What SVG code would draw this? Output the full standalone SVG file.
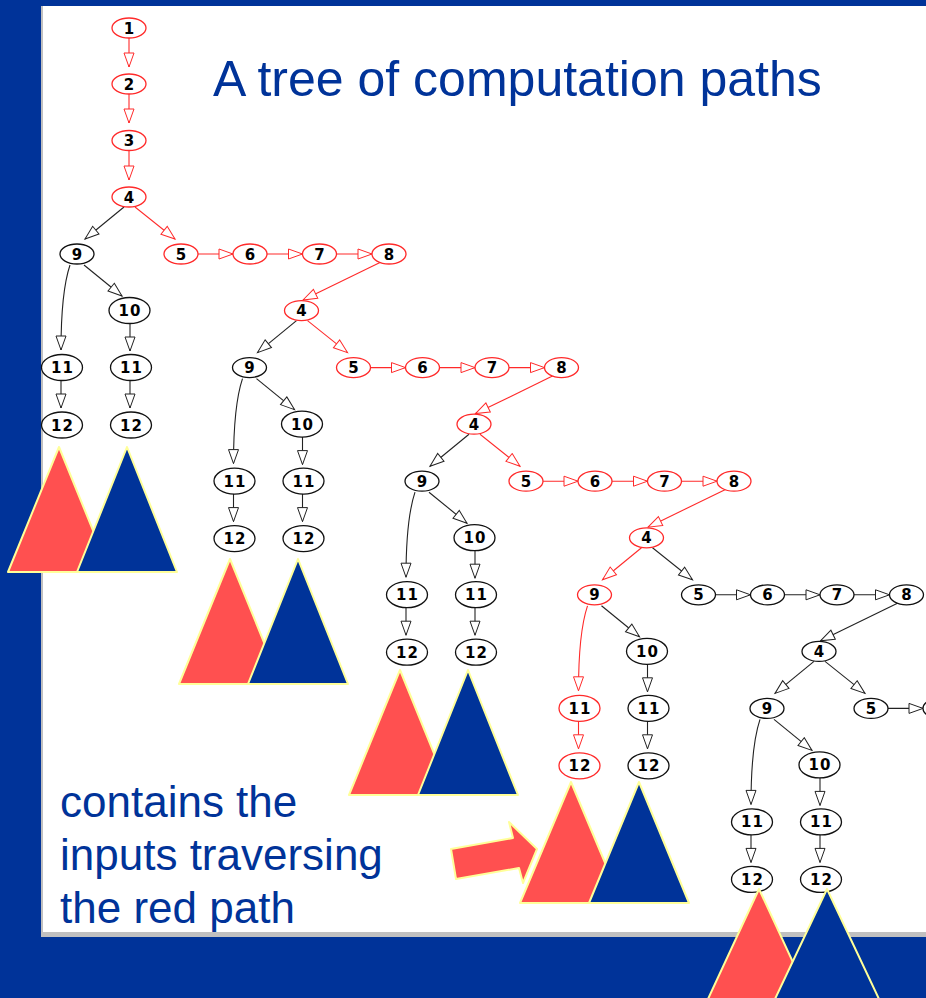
<svg xmlns="http://www.w3.org/2000/svg" width="926" height="998" viewBox="0 0 926 998">
<style>
.n ellipse{fill:#fff;stroke-width:1.3}
.k ellipse{stroke:#111}
.r ellipse{stroke:#ff2a2a}
.n text{font-family:"DejaVu Sans","Liberation Sans",sans-serif;font-weight:bold;font-size:15px;text-anchor:middle;fill:#000}
.n text.d{letter-spacing:1px}
.ek{fill:none;stroke:#222;stroke-width:1.1;marker-end:url(#aK)}
.er{fill:none;stroke:#ff2a2a;stroke-width:1.1;marker-end:url(#aR)}
.tr{fill:#ff5050;stroke:#ffff99;stroke-width:2;stroke-linejoin:round}
.tb{fill:#003399;stroke:#ffff99;stroke-width:2;stroke-linejoin:round}
.lbl{font-family:"Liberation Sans",Arial,sans-serif;fill:#003399}
</style>
<defs>
<marker id="aK" markerWidth="17" markerHeight="13" refX="15" refY="6" orient="auto" markerUnits="userSpaceOnUse"><path d="M1,1 L15,6 L1,11 Z" fill="#fff" stroke="#222" stroke-width="1"/></marker>
<marker id="aR" markerWidth="17" markerHeight="13" refX="15" refY="6" orient="auto" markerUnits="userSpaceOnUse"><path d="M1,1 L15,6 L1,11 Z" fill="#fff" stroke="#ff2a2a" stroke-width="1"/></marker>
</defs>
<rect x="0" y="0" width="926" height="998" fill="#003399"/>
<rect x="41" y="6" width="885" height="931" fill="#c0c0c0"/>
<rect x="43" y="6" width="883" height="926" fill="#fff"/>
<text class="lbl" x="213" y="96" font-size="50">A tree of computation paths</text>
<text class="lbl" x="60" y="817" font-size="44">contains the</text>
<text class="lbl" x="60" y="870" font-size="44">inputs traversing</text>
<text class="lbl" x="60" y="923" font-size="44">the red path</text>
<g id="connectors">
<g id="c-top">
<path class="er" d="M129,38 L129,67"/>
<path class="er" d="M129,94 L129,123"/>
<path class="er" d="M129,151 L129,180"/>
</g>
<g id="c-b0">
<path class="ek" d="M124,207 L85,239"/>
<path class="er" d="M135,207 L175,239"/>
<path class="er" d="M198,254 L233,254"/>
<path class="er" d="M267,254 L302.5,254"/>
<path class="er" d="M336.5,254 L372,254"/>
<path class="er" d="M381,262 L303,300"/>
<path class="ek" d="M84,265 L122,296"/>
<path class="ek" d="M70,265 Q61,292 61,350"/>
<path class="ek" d="M130,323 L130,351"/>
<path class="ek" d="M61,380 L61,408"/>
<path class="ek" d="M130,380 L130,408"/>
</g>
<g id="c-b1" transform="translate(172.5,113.6)">
<path class="ek" d="M124,207 L85,239"/>
<path class="er" d="M135,207 L175,239"/>
<path class="er" d="M198,254 L233,254"/>
<path class="er" d="M267,254 L302.5,254"/>
<path class="er" d="M336.5,254 L372,254"/>
<path class="er" d="M381,262 L303,300"/>
<path class="ek" d="M84,265 L122,296"/>
<path class="ek" d="M70,265 Q61,292 61,350"/>
<path class="ek" d="M130,323 L130,351"/>
<path class="ek" d="M61,380 L61,408"/>
<path class="ek" d="M130,380 L130,408"/>
</g>
<g id="c-b2" transform="translate(345,227.2)">
<path class="ek" d="M124,207 L85,239"/>
<path class="er" d="M135,207 L175,239"/>
<path class="er" d="M198,254 L233,254"/>
<path class="er" d="M267,254 L302.5,254"/>
<path class="er" d="M336.5,254 L372,254"/>
<path class="er" d="M381,262 L303,300"/>
<path class="ek" d="M84,265 L122,296"/>
<path class="ek" d="M70,265 Q61,292 61,350"/>
<path class="ek" d="M130,323 L130,351"/>
<path class="ek" d="M61,380 L61,408"/>
<path class="ek" d="M130,380 L130,408"/>
</g>
<g id="c-b3" transform="translate(517.5,340.8)">
<path class="er" d="M124,207 L85,239"/>
<path class="ek" d="M135,207 L175,239"/>
<path class="ek" d="M198,254 L233,254"/>
<path class="ek" d="M267,254 L302.5,254"/>
<path class="ek" d="M336.5,254 L372,254"/>
<path class="ek" d="M381,262 L303,300"/>
<path class="ek" d="M84,265 L122,296"/>
<path class="er" d="M70,265 Q61,292 61,350"/>
<path class="ek" d="M130,323 L130,351"/>
<path class="er" d="M61,380 L61,408"/>
<path class="ek" d="M130,380 L130,408"/>
</g>
<g id="c-b4" transform="translate(690,454.4)">
<path class="ek" d="M124,207 L85,239"/>
<path class="ek" d="M135,207 L175,239"/>
<path class="ek" d="M198,254 L233,254"/>
<path class="ek" d="M84,265 L122,296"/>
<path class="ek" d="M70,265 Q61,292 61,350"/>
<path class="ek" d="M130,323 L130,351"/>
<path class="ek" d="M61,380 L61,408"/>
<path class="ek" d="M130,380 L130,408"/>
</g>
</g>
<g id="nodes">
<g id="n1" class="n r"><ellipse cx="129" cy="28" rx="17" ry="10"/><text x="129" y="33.5">1</text></g>
<g id="n2" class="n r"><ellipse cx="129" cy="84" rx="17" ry="10"/><text x="129" y="89.5">2</text></g>
<g id="n3" class="n r"><ellipse cx="129" cy="140.5" rx="17" ry="10"/><text x="129" y="146">3</text></g>
<g id="b0">
<g id="b0-4" class="n r"><ellipse cx="129" cy="197" rx="17" ry="10"/><text x="129" y="202.5">4</text></g>
<g id="b0-9" class="n k"><ellipse cx="77" cy="254" rx="17" ry="10"/><text x="77" y="259.5">9</text></g>
<g id="b0-5" class="n r"><ellipse cx="181" cy="254" rx="17" ry="10"/><text x="181" y="259.5">5</text></g>
<g id="b0-6" class="n r"><ellipse cx="250" cy="254" rx="17" ry="10"/><text x="250" y="259.5">6</text></g>
<g id="b0-7" class="n r"><ellipse cx="319.5" cy="254" rx="17" ry="10"/><text x="319.5" y="259.5">7</text></g>
<g id="b0-8" class="n r"><ellipse cx="389" cy="254" rx="17" ry="10"/><text x="389" y="259.5">8</text></g>
<g id="b0-10" class="n k"><ellipse cx="129.5" cy="310.5" rx="20.5" ry="13"/><text class="d" x="130" y="316">10</text></g>
<g id="b0-11a" class="n k"><ellipse cx="62" cy="367.5" rx="20.5" ry="13"/><text class="d" x="62.5" y="373">11</text></g>
<g id="b0-11b" class="n k"><ellipse cx="131" cy="367.5" rx="20.5" ry="13"/><text class="d" x="131.5" y="373">11</text></g>
<g id="b0-12a" class="n k"><ellipse cx="62" cy="425" rx="20.5" ry="13"/><text class="d" x="62.5" y="430.5">12</text></g>
<g id="b0-12b" class="n k"><ellipse cx="131" cy="425" rx="20.5" ry="13"/><text class="d" x="131.5" y="430.5">12</text></g>
</g>
<g id="b1" transform="translate(172.5,113.6)">
<g id="b1-4" class="n r"><ellipse cx="129" cy="197" rx="17" ry="10"/><text x="129" y="202.5">4</text></g>
<g id="b1-9" class="n k"><ellipse cx="77" cy="254" rx="17" ry="10"/><text x="77" y="259.5">9</text></g>
<g id="b1-5" class="n r"><ellipse cx="181" cy="254" rx="17" ry="10"/><text x="181" y="259.5">5</text></g>
<g id="b1-6" class="n r"><ellipse cx="250" cy="254" rx="17" ry="10"/><text x="250" y="259.5">6</text></g>
<g id="b1-7" class="n r"><ellipse cx="319.5" cy="254" rx="17" ry="10"/><text x="319.5" y="259.5">7</text></g>
<g id="b1-8" class="n r"><ellipse cx="389" cy="254" rx="17" ry="10"/><text x="389" y="259.5">8</text></g>
<g id="b1-10" class="n k"><ellipse cx="129.5" cy="310.5" rx="20.5" ry="13"/><text class="d" x="130" y="316">10</text></g>
<g id="b1-11a" class="n k"><ellipse cx="62" cy="367.5" rx="20.5" ry="13"/><text class="d" x="62.5" y="373">11</text></g>
<g id="b1-11b" class="n k"><ellipse cx="131" cy="367.5" rx="20.5" ry="13"/><text class="d" x="131.5" y="373">11</text></g>
<g id="b1-12a" class="n k"><ellipse cx="62" cy="425" rx="20.5" ry="13"/><text class="d" x="62.5" y="430.5">12</text></g>
<g id="b1-12b" class="n k"><ellipse cx="131" cy="425" rx="20.5" ry="13"/><text class="d" x="131.5" y="430.5">12</text></g>
</g>
<g id="b2" transform="translate(345,227.2)">
<g id="b2-4" class="n r"><ellipse cx="129" cy="197" rx="17" ry="10"/><text x="129" y="202.5">4</text></g>
<g id="b2-9" class="n k"><ellipse cx="77" cy="254" rx="17" ry="10"/><text x="77" y="259.5">9</text></g>
<g id="b2-5" class="n r"><ellipse cx="181" cy="254" rx="17" ry="10"/><text x="181" y="259.5">5</text></g>
<g id="b2-6" class="n r"><ellipse cx="250" cy="254" rx="17" ry="10"/><text x="250" y="259.5">6</text></g>
<g id="b2-7" class="n r"><ellipse cx="319.5" cy="254" rx="17" ry="10"/><text x="319.5" y="259.5">7</text></g>
<g id="b2-8" class="n r"><ellipse cx="389" cy="254" rx="17" ry="10"/><text x="389" y="259.5">8</text></g>
<g id="b2-10" class="n k"><ellipse cx="129.5" cy="310.5" rx="20.5" ry="13"/><text class="d" x="130" y="316">10</text></g>
<g id="b2-11a" class="n k"><ellipse cx="62" cy="367.5" rx="20.5" ry="13"/><text class="d" x="62.5" y="373">11</text></g>
<g id="b2-11b" class="n k"><ellipse cx="131" cy="367.5" rx="20.5" ry="13"/><text class="d" x="131.5" y="373">11</text></g>
<g id="b2-12a" class="n k"><ellipse cx="62" cy="425" rx="20.5" ry="13"/><text class="d" x="62.5" y="430.5">12</text></g>
<g id="b2-12b" class="n k"><ellipse cx="131" cy="425" rx="20.5" ry="13"/><text class="d" x="131.5" y="430.5">12</text></g>
</g>
<g id="b3" transform="translate(517.5,340.8)">
<g id="b3-4" class="n r"><ellipse cx="129" cy="197" rx="17" ry="10"/><text x="129" y="202.5">4</text></g>
<g id="b3-9" class="n r"><ellipse cx="77" cy="254" rx="17" ry="10"/><text x="77" y="259.5">9</text></g>
<g id="b3-5" class="n k"><ellipse cx="181" cy="254" rx="17" ry="10"/><text x="181" y="259.5">5</text></g>
<g id="b3-6" class="n k"><ellipse cx="250" cy="254" rx="17" ry="10"/><text x="250" y="259.5">6</text></g>
<g id="b3-7" class="n k"><ellipse cx="319.5" cy="254" rx="17" ry="10"/><text x="319.5" y="259.5">7</text></g>
<g id="b3-8" class="n k"><ellipse cx="389" cy="254" rx="17" ry="10"/><text x="389" y="259.5">8</text></g>
<g id="b3-10" class="n k"><ellipse cx="129.5" cy="310.5" rx="20.5" ry="13"/><text class="d" x="130" y="316">10</text></g>
<g id="b3-11a" class="n r"><ellipse cx="62" cy="367.5" rx="20.5" ry="13"/><text class="d" x="62.5" y="373">11</text></g>
<g id="b3-11b" class="n k"><ellipse cx="131" cy="367.5" rx="20.5" ry="13"/><text class="d" x="131.5" y="373">11</text></g>
<g id="b3-12a" class="n r"><ellipse cx="62" cy="425" rx="20.5" ry="13"/><text class="d" x="62.5" y="430.5">12</text></g>
<g id="b3-12b" class="n k"><ellipse cx="131" cy="425" rx="20.5" ry="13"/><text class="d" x="131.5" y="430.5">12</text></g>
</g>
<g id="b4" transform="translate(690,454.4)">
<g id="b4-4" class="n k"><ellipse cx="129" cy="197" rx="17" ry="10"/><text x="129" y="202.5">4</text></g>
<g id="b4-9" class="n k"><ellipse cx="77" cy="254" rx="17" ry="10"/><text x="77" y="259.5">9</text></g>
<g id="b4-5" class="n k"><ellipse cx="181" cy="254" rx="17" ry="10"/><text x="181" y="259.5">5</text></g>
<g id="b4-6" class="n k"><ellipse cx="250" cy="254" rx="17" ry="10"/></g>
<g id="b4-10" class="n k"><ellipse cx="129.5" cy="310.5" rx="20.5" ry="13"/><text class="d" x="130" y="316">10</text></g>
<g id="b4-11a" class="n k"><ellipse cx="62" cy="367.5" rx="20.5" ry="13"/><text class="d" x="62.5" y="373">11</text></g>
<g id="b4-11b" class="n k"><ellipse cx="131" cy="367.5" rx="20.5" ry="13"/><text class="d" x="131.5" y="373">11</text></g>
<g id="b4-12a" class="n k"><ellipse cx="62" cy="425" rx="20.5" ry="13"/><text class="d" x="62.5" y="430.5">12</text></g>
<g id="b4-12b" class="n k"><ellipse cx="131" cy="425" rx="20.5" ry="13"/><text class="d" x="131.5" y="430.5">12</text></g>
</g>
</g>
<g id="subtrees">
<polygon class="tr" points="59,447 8,572 110,572"/>
<polygon class="tb" points="127,447 77,572 177,572"/>
<polygon class="tr" points="230,559 179,684 281,684"/>
<polygon class="tb" points="298,559 248,684 348,684"/>
<polygon class="tr" points="400,670 349,795 451,795"/>
<polygon class="tb" points="468,670 418,795 518,795"/>
<polygon class="tr" points="571,782 520,903 622,903"/>
<polygon class="tb" points="639,782 589,903 689,903"/>
<polygon class="tr" points="759,889 708,999 810,999"/>
<polygon class="tb" points="827,889 775,999 879,999"/>
</g>
<polygon id="pointer" class="tr" points="451,849 513,838 509,822 537,849 523,883 519,868 456,879"/>
</svg>
